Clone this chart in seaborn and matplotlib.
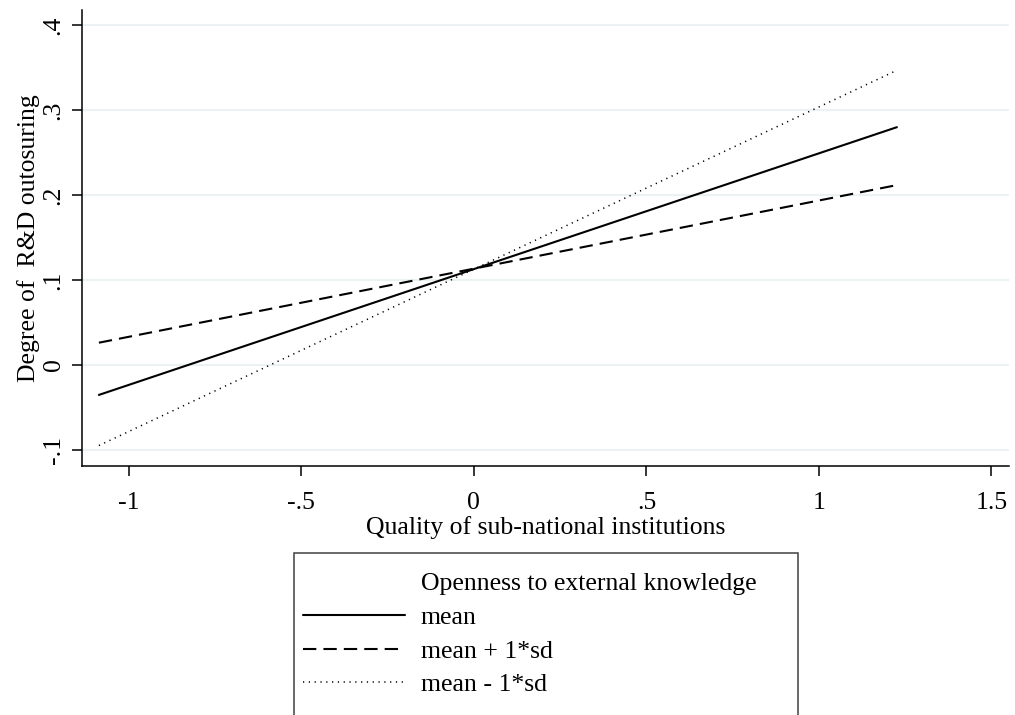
import numpy as np
import pandas as pd
import seaborn as sns
import matplotlib
matplotlib.use("Agg")
import matplotlib.pyplot as plt
from matplotlib.lines import Line2D
from matplotlib.patches import Rectangle

# ---- data ----
x_vals = [-1.087, 0.0, 1.226]
y_mean = [-0.0353, 0.1129, 0.2800]
y_plus = [0.0262, 0.1134, 0.2118]
y_minus = [-0.0949, 0.1128, 0.3470]
series_labels = ["mean", "mean + 1*sd", "mean - 1*sd"]
legend_title = "Openness to external knowledge"
x_ticks = [-1, -0.5, 0, 0.5, 1, 1.5]
x_tick_labels = ["-1", "-.5", "0", ".5", "1", "1.5"]
y_ticks = [-0.1, 0, 0.1, 0.2, 0.3, 0.4]
y_tick_labels = ["-.1", "0", ".1", ".2", ".3", ".4"]
x_label = "Quality of sub-national institutions"
y_label = "Degree of  R&D outosuring"

sns.set_theme(style="white")
plt.rcParams["font.family"] = ["Liberation Serif", "DejaVu Serif"]
plt.rcParams["text.color"] = "black"
plt.rcParams["axes.labelcolor"] = "black"
plt.rcParams["xtick.color"] = "black"
plt.rcParams["ytick.color"] = "black"
FS = 18.5

fig = plt.figure(figsize=(10.15, 7.15), dpi=100)
W, H = 1015, 715
ax = fig.add_axes([82 / W, 1 - 466 / H, (1009 - 82) / W, (466 - 10) / H])

df = pd.DataFrame({"x": x_vals, "mean": y_mean, "plus": y_plus, "minus": y_minus})

sns.lineplot(data=df, x="x", y="mean", ax=ax, color="black", lw=1.5,
             label=series_labels[0], sort=False)
sns.lineplot(data=df, x="x", y="plus", ax=ax, color="black", lw=1.5,
             dashes=False, label=series_labels[1], sort=False)
sns.lineplot(data=df, x="x", y="minus", ax=ax, color="black", lw=1.1,
             dashes=False, label=series_labels[2], sort=False)
lines = ax.get_lines()
lines[1].set_linestyle((0, (6.4, 3.4)))
lines[2].set_linestyle((0, (0.8, 3.0)))

ax.set_xlim(-1.136, 1.551)
ax.set_ylim(-0.119, 0.418)
ax.set_xticks(x_ticks)
ax.set_xticklabels(x_tick_labels, fontsize=FS)
ax.set_yticks(y_ticks)
ax.set_yticklabels(y_tick_labels, fontsize=FS, rotation=90, va="center")
ax.grid(axis="y", color="#eaf2f3", lw=1.5)
ax.grid(axis="x", visible=False)
for s in ["top", "right"]:
    ax.spines[s].set_visible(False)
for s in ["left", "bottom"]:
    ax.spines[s].set_color("black")
    ax.spines[s].set_linewidth(1.1)
ax.tick_params(axis="both", direction="out", length=7.5, width=1.1,
               color="black", left=True, bottom=True, pad=5)
ax.tick_params(axis="x", pad=11)
ax.set_xlabel(x_label, fontsize=FS, labelpad=2)
ax.set_ylabel(y_label, fontsize=FS, labelpad=2)

# legend
handles = [Line2D([], [], linestyle="none")] + lines[:3]
labels = [legend_title] + series_labels
leg = ax.legend(handles, labels, loc="upper left", frameon=False,
                bbox_to_anchor=(303 / W, 1 - 572 / H), bbox_transform=fig.transFigure,
                fontsize=FS, borderpad=0, borderaxespad=0, handlelength=3.97,
                handletextpad=0.62, labelspacing=0.42)
fig.patches.append(Rectangle((294 / W, -0.2), (798 - 294) / W, 0.2 + 1 - 553 / H,
                             transform=fig.transFigure, fill=False,
                             edgecolor="#404040", lw=1.1, figure=fig))

fig.savefig("out.png", dpi=100)
